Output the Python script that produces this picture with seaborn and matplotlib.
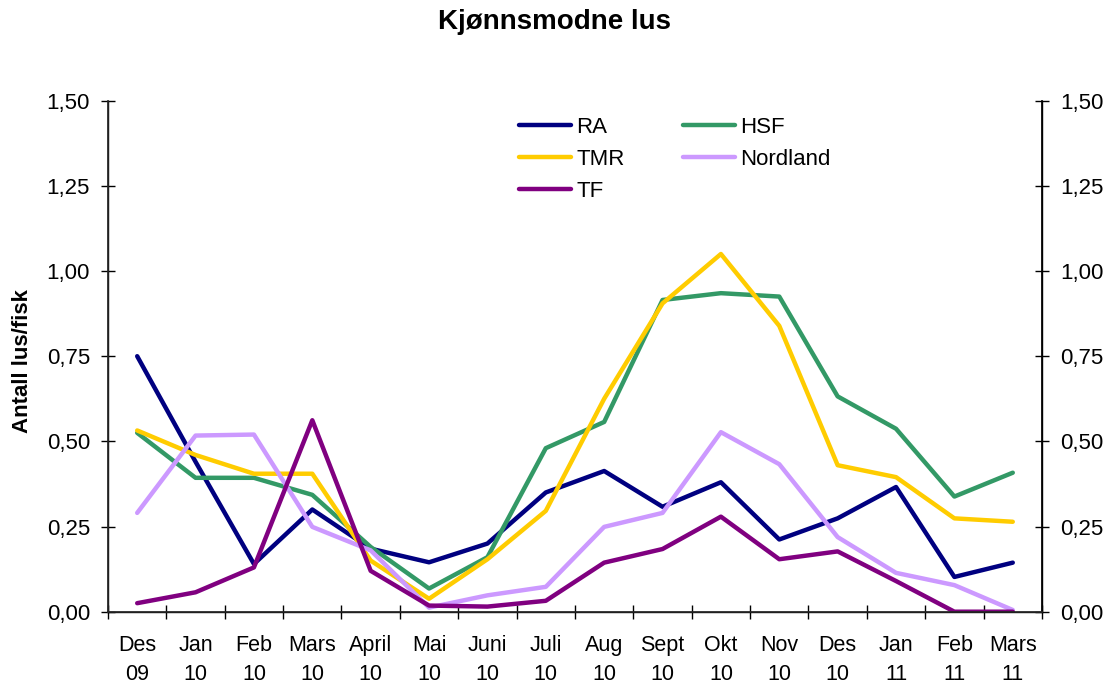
import matplotlib
matplotlib.use("Agg")
import matplotlib.pyplot as plt
from matplotlib.ticker import FuncFormatter, FixedLocator
import seaborn as sns
import pandas as pd

# Months (x categories)
months = ["Des\n09", "Jan\n10", "Feb\n10", "Mars\n10", "April\n10", "Mai\n10",
          "Juni\n10", "Juli\n10", "Aug\n10", "Sept\n10", "Okt\n10", "Nov\n10",
          "Des\n10", "Jan\n11", "Feb\n11", "Mars\n11"]

# Values (antall lus per fisk)
ra = [0.75, 0.44, 0.14, 0.30, 0.185, 0.145, 0.20, 0.35, 0.413, 0.308,
      0.38, 0.212, 0.274, 0.366, 0.102, 0.144]
hsf = [0.525, 0.393, 0.393, 0.343, 0.19, 0.068, 0.16, 0.48, 0.557, 0.915,
       0.935, 0.925, 0.632, 0.537, 0.338, 0.408]
tmr = [0.532, 0.46, 0.405, 0.405, 0.15, 0.038, 0.154, 0.296, 0.625, 0.905,
       1.05, 0.839, 0.43, 0.395, 0.274, 0.264]
nordland = [0.29, 0.517, 0.52, 0.249, 0.18, 0.012, 0.048, 0.073, 0.249, 0.29,
            0.527, 0.433, 0.219, 0.114, 0.078, 0.005]
tf = [0.025, 0.057, 0.13, 0.562, 0.12, 0.018, 0.015, 0.032, 0.144, 0.184,
      0.279, 0.154, 0.177, 0.09, 0.0, 0.0]

series = {"RA": ra, "HSF": hsf, "TMR": tmr, "Nordland": nordland, "TF": tf}
colors = {"RA": "#000080", "HSF": "#339966", "TMR": "#FFCC00",
          "Nordland": "#CC99FF", "TF": "#800080"}

rows = []
for name, vals in series.items():
    for m, v in zip(months, vals):
        rows.append({"month": m, "value": v, "region": name})
df = pd.DataFrame(rows)

sns.set_theme(style="white")
plt.rcParams["font.family"] = ["Liberation Sans", "DejaVu Sans"]
plt.rcParams["text.color"] = "black"
plt.rcParams["axes.labelcolor"] = "black"
plt.rcParams["xtick.color"] = "black"
plt.rcParams["ytick.color"] = "black"

fig = plt.figure(figsize=(11.1, 6.84), dpi=100)
ax = fig.add_axes([0.0973, 0.1057, 0.9387 - 0.0973, 0.8528 - 0.1057])

sns.lineplot(data=df, x="month", y="value", hue="region",
             hue_order=list(series.keys()), palette=colors, linewidth=3.2,
             sort=False, ax=ax, solid_capstyle="round")

ax.set_xlim(-0.5, len(months) - 0.5)
ax.set_ylim(0, 1.5)
yticks = [0, 0.25, 0.5, 0.75, 1.0, 1.25, 1.5]
fmt = FuncFormatter(lambda v, p: f"{v:.2f}".replace(".", ","))
ax.set_yticks(yticks)
ax.yaxis.set_major_formatter(fmt)

# labels at month centres, tick marks between months
ax.set_xticks(range(len(months)))
ax.set_xticklabels(months)
for lab in ax.get_xticklabels():
    lab.set_linespacing(1.5)
ax.xaxis.set_minor_locator(FixedLocator([i - 0.5 for i in range(len(months) + 1)]))
ax.tick_params(axis="x", which="major", length=0, pad=17, labelsize=15.5)
ax.tick_params(axis="x", which="minor", direction="inout", length=10,
               width=1, color="black", bottom=True)
ax.tick_params(axis="y", direction="inout", length=10, width=1,
               color="black", pad=8, labelsize=16, left=True)

ax.set_xlabel("")
ax.set_ylabel("Antall lus/fisk", fontsize=16, fontweight="bold")
ax.yaxis.set_label_coords(-0.092, 0.49)
ax.yaxis.label.set_verticalalignment("center")

for side in ["left", "bottom", "right"]:
    ax.spines[side].set_color("black")
    ax.spines[side].set_linewidth(1)
ax.spines["top"].set_visible(False)

ax2 = ax.twinx()
ax2.set_ylim(0, 1.5)
ax2.set_yticks(yticks)
ax2.yaxis.set_major_formatter(fmt)
ax2.tick_params(axis="y", direction="inout", length=10, width=1,
                color="black", pad=8, labelsize=16, right=True)
ax2.spines["top"].set_visible(False)
ax2.spines["right"].set_color("black")
ax2.grid(False)
ax.grid(False)

handles, labels = ax.get_legend_handles_labels()
lookup = dict(zip(labels, handles))
order = ["RA", "TMR", "TF", "HSF", "Nordland"]
ax.legend([lookup[k] for k in order], order, ncol=2, frameon=False,
          loc="upper left", bbox_to_anchor=(0.428, 0.99), borderpad=0,
          fontsize=16, handlelength=2.35, handletextpad=0.25,
          columnspacing=2.6, labelspacing=0.5)

fig.text(0.5, 1 - 22 / 684, "Kjønnsmodne lus", ha="center", va="center",
         fontsize=20, fontweight="bold")

fig.savefig("out.png", dpi=100)
